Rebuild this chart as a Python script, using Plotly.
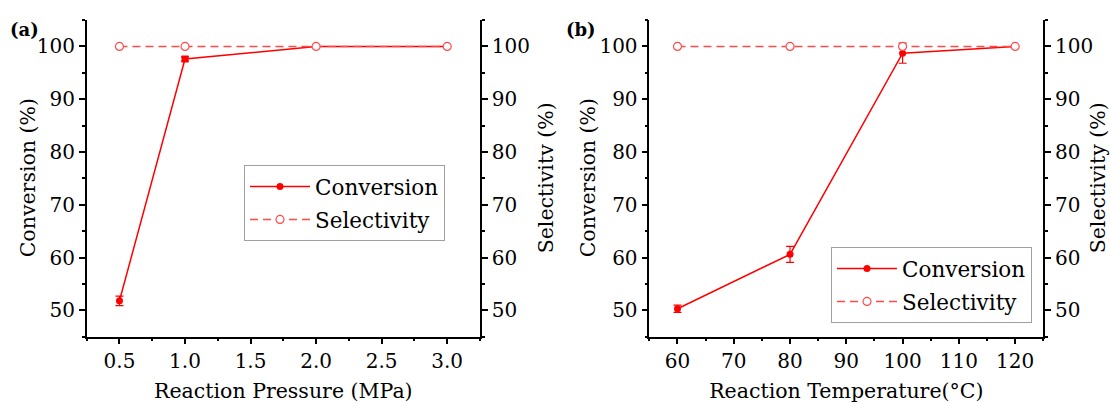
import plotly.graph_objects as go

# ---- data ----
pressure = [0.5, 1.0, 2.0, 3.0]
conv_a = [51.8, 97.6, 100.0, 100.0]
conv_a_err = [0.9, 0.4, 0.0, 0.0]
sel_a = [100.0, 100.0, 100.0, 100.0]

temperature = [60, 80, 100, 120]
conv_b = [50.3, 60.6, 98.7, 100.0]
conv_b_err = [0.7, 1.5, 1.9, 0.0]
sel_b = [100.0, 100.0, 100.0, 100.0]

FONT = "DejaVu Serif"
TICK = 20
TITLE = 20.5
LEG = 21.5
RED = "#FF0000"
SEL = "#FF4A4A"
W, H = 1110, 403

fig = go.Figure()

def add_panel(x, conv, err, sel, xa, ya, ya2, legend, conv_symbols, tag):
    fig.add_trace(go.Scatter(
        x=x, y=conv, name="Conversion", mode="lines+markers",
        line=dict(color=RED, width=1.5),
        marker=dict(color=RED, size=7, symbol=conv_symbols),
        error_y=dict(type="data", array=err, color=RED, thickness=1.2, width=4),
        xaxis=xa, yaxis=ya, legend=legend, legendgroup="c" + tag))
    fig.add_trace(go.Scatter(
        x=x, y=sel, name="Selectivity", mode="lines+markers",
        line=dict(color=SEL, width=1.5, dash="8px,5px"),
        marker=dict(color="white", size=8, symbol="circle",
                    line=dict(color=SEL, width=1.2)),
        xaxis=xa, yaxis=ya2, legend=legend, legendgroup="s" + tag))

add_panel(pressure, conv_a, conv_a_err, sel_a, "x", "y", "y2", "legend",
          ["circle", "square", "circle", "circle"], "a")
add_panel(temperature, conv_b, conv_b_err, sel_b, "x2", "y3", "y4", "legend2",
          "circle", "b")

ydom = [0.1645, 0.9504]
ymid = sum(ydom) / 2
axis_common = dict(showline=True, linecolor="black", linewidth=1.5,
                   ticks="outside", ticklen=6, tickwidth=1.5, tickcolor="black",
                   showgrid=False, zeroline=False,
                   tickfont=dict(family=FONT, size=TICK, color="black"))
title_font = dict(family=FONT, size=TITLE, color="black")

def yaxis(side, anchor, overlaying=None):
    d = dict(axis_common, range=[45, 105], dtick=10, tick0=50, domain=ydom,
             side=side, anchor=anchor,
             minor=dict(ticks="outside", ticklen=3, dtick=5, tick0=45,
                        tickwidth=1.5, tickcolor="black"))
    if overlaying:
        d["overlaying"] = overlaying
    return d

legend_common = dict(xanchor="left", yanchor="top", bgcolor="white",
                     bordercolor="#A0A0A0", borderwidth=1,
                     font=dict(family=FONT, size=LEG, color="black"),
                     itemwidth=60, traceorder="grouped", tracegroupgap=2)

def ytitle(text, xpix):
    return dict(text=text, x=xpix / W, y=ymid, xref="paper", yref="paper",
                xanchor="center", yanchor="middle", textangle=-90,
                showarrow=False, font=title_font)

fig.update_layout(
    width=W, height=H,
    margin=dict(l=0, r=0, t=0, b=0),
    paper_bgcolor="white", plot_bgcolor="white",
    font=dict(family=FONT, size=TICK, color="black"),
    xaxis=dict(axis_common, domain=[0.0781, 0.4324], range=[0.25, 3.25],
               dtick=0.5, tick0=0.5, tickformat=".1f", anchor="y",
               minor=dict(ticks="outside", ticklen=3, dtick=0.25, tick0=0.25,
                          tickwidth=1.5, tickcolor="black"),
               title=dict(text="Reaction Pressure (MPa)", font=title_font)),
    xaxis2=dict(axis_common, domain=[0.585, 0.9399], range=[55, 125],
                dtick=10, tick0=60, anchor="y3",
                minor=dict(ticks="outside", ticklen=3, dtick=5, tick0=55,
                           tickwidth=1.5, tickcolor="black"),
                title=dict(text="Reaction Temperature(°C)", font=title_font)),
    yaxis=yaxis("left", "x"),
    yaxis2=yaxis("right", "x", overlaying="y"),
    yaxis3=yaxis("left", "x2"),
    yaxis4=yaxis("right", "x2", overlaying="y3"),
    legend=dict(legend_common, x=244 / W, y=1 - 165 / H),
    legend2=dict(legend_common, x=831 / W, y=1 - 247 / H),
    showlegend=True,
    annotations=[
        dict(text="<b>(a)</b>", x=24 / W, y=1 - 29 / H, xref="paper", yref="paper",
             xanchor="center", yanchor="middle",
             showarrow=False, font=dict(family=FONT, size=18, color="black")),
        dict(text="<b>(b)</b>", x=581 / W, y=1 - 29 / H, xref="paper", yref="paper",
             xanchor="center", yanchor="middle",
             showarrow=False, font=dict(family=FONT, size=18, color="black")),
        ytitle("Conversion (%)", 28),
        ytitle("Selectivitv (%)", 546),
        ytitle("Conversion (%)", 588),
        ytitle("Selectivity (%)", 1098),
    ],
)

fig.write_html("out.html")
